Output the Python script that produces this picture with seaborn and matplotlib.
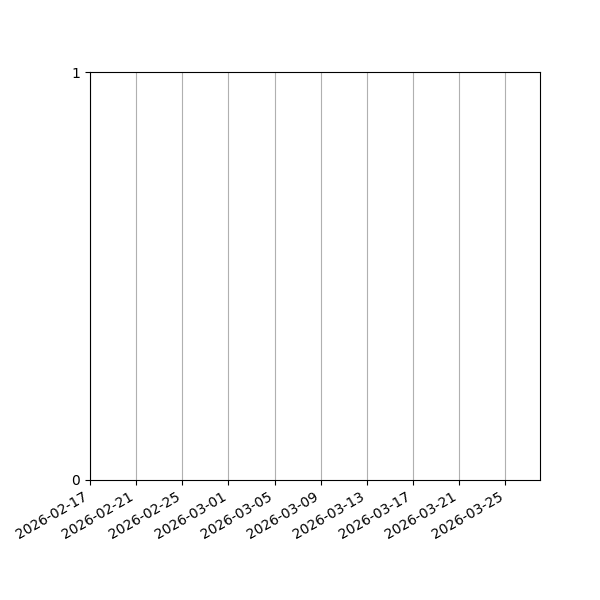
import matplotlib
matplotlib.use('Agg')
import matplotlib.pyplot as plt
import matplotlib.dates as mdates
import seaborn as sns
import pandas as pd

# the chart shows no data: just the empty date axis
dates = []
values = []
x_start = '2026-02-17'
x_end = '2026-03-28'
tick_dates = ['2026-02-17', '2026-02-21', '2026-02-25', '2026-03-01', '2026-03-05',
              '2026-03-09', '2026-03-13', '2026-03-17', '2026-03-21', '2026-03-25']
y_ticks = [0, 1]

fig, ax = plt.subplots(figsize=(6, 6), dpi=100)
if len(dates) > 0:
    sns.lineplot(x=pd.to_datetime(dates), y=values, ax=ax)

ax.set_xlim(pd.Timestamp(x_start), pd.Timestamp(x_end))
ax.set_ylim(0, 1)
ax.set_xticks(pd.to_datetime(tick_dates))
ax.xaxis.set_major_formatter(mdates.DateFormatter('%Y-%m-%d'))
ax.set_yticks(y_ticks)
ax.grid(axis='x')
fig.autofmt_xdate()
fig.subplots_adjust(left=0.15, right=0.9, top=0.88, bottom=0.2)
fig.savefig('out.png', dpi=100)
